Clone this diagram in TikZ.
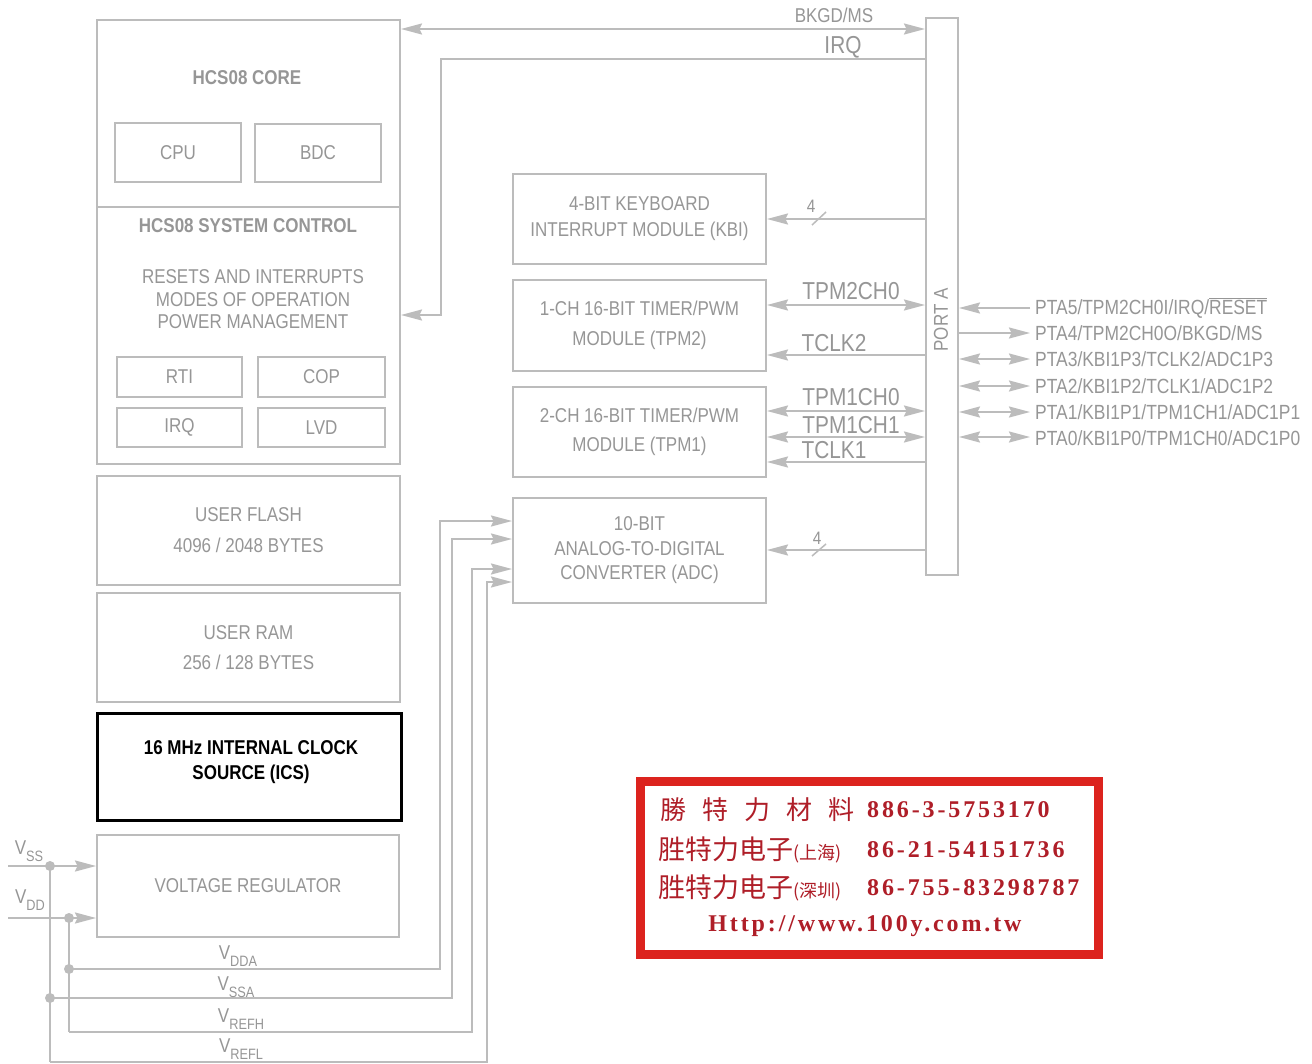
\documentclass[tikz,border=0pt]{standalone}
\usepackage{fontspec}
\setmainfont{Liberation Sans}[FakeStretch=0.85]
\newfontfamily\cjk{Noto Sans CJK TC}
\newfontfamily\rserif{Liberation Serif}[LetterSpace=12]
\usetikzlibrary{arrows.meta}
\definecolor{lgray}{RGB}{188,188,188}
\definecolor{tgray}{RGB}{150,150,150}
\definecolor{stampred}{RGB}{220,35,30}
\definecolor{stamptext}{RGB}{175,30,40}
\newcommand\fs[2]{\fontsize{#1}{#2}\selectfont}
\newcommand\vsub[1]{V\raisebox{-0.35em}{\fs{15}{15}#1}}
\begin{document}
\begin{tikzpicture}[x=1pt,y=-1pt,
  box/.style={draw=lgray, line width=2pt, text=tgray, inner sep=0pt, align=center, font=\fs{20}{26}},
  txt/.style={text=tgray, inner sep=0pt, align=center, font=\fs{20}{24}},
  lbl/.style={text=tgray, inner sep=0pt, font=\fs{24.5}{26}},
  pin/.style={text=tgray, inner sep=0pt, anchor=west, font=\fs{20.5}{22}},
  wire/.style={draw=lgray, line width=2pt},
  arr/.style={wire, -{Stealth[length=21pt,width=11pt,inset=2.5pt]}},
  dbl/.style={wire, {Stealth[length=21pt,width=11pt,inset=2.5pt]}-{Stealth[length=21pt,width=11pt,inset=2.5pt]}},
  dot/.style={circle, fill=lgray, inner sep=0pt, minimum size=10pt},
  stxt/.style={text=stamptext, inner sep=0pt, anchor=west}]
\fill[white] (0,0) rectangle (1312,1063);
\useasboundingbox (0,0) rectangle (1312,1063);

% left column
\node[box, minimum width=303pt, minimum height=187pt] (core) at (248.5,113.5) {};
\node[txt, font=\bfseries\fs{20}{24}] (coret) at (247,78) {HCS08 CORE};
\node[box, minimum width=126pt, minimum height=59pt] (cpu) at (178,152.5) {CPU};
\node[box, minimum width=126pt, minimum height=58pt] (bdc) at (318,153) {BDC};
\node[box, minimum width=303pt, minimum height=257pt] (sysc) at (248.5,335.5) {};
\node[txt, font=\bfseries\fs{20}{24}] (syst) at (248,226) {HCS08 SYSTEM CONTROL};
\node[txt, font=\fs{20}{22.5}] (sysl) at (253,299.5) {RESETS AND INTERRUPTS\\MODES OF OPERATION\\POWER MANAGEMENT};
\node[box, minimum width=125pt, minimum height=40pt] (rti) at (179.5,377) {RTI};
\node[box, minimum width=127pt, minimum height=40pt] (cop) at (321.5,377) {COP};
\node[box, minimum width=125pt, minimum height=39pt] (irqb) at (179.5,427.5) {IRQ};
\node[box, minimum width=127pt, minimum height=39pt] (lvd) at (321.5,427.5) {LVD};
\node[box, minimum width=303pt, minimum height=109pt, font=\fs{20}{31}] (flash) at (248.5,530.5) {USER FLASH\\4096 / 2048 BYTES};
\node[box, minimum width=303pt, minimum height=109pt, font=\fs{20}{30}] (ram) at (248.5,647.5) {USER RAM\\256 / 128 BYTES};
\node[box, draw=black, text=black, line width=3pt, minimum width=304pt, minimum height=107pt] (ics) at (249,766.5) {};
\node[txt, text=black, font=\bfseries\fs{20}{25}] (icst) at (251,762.5) {16 MHz INTERNAL CLOCK\\SOURCE (ICS)};
\node[box, minimum width=302pt, minimum height=102pt] (vreg) at (248,886) {VOLTAGE REGULATOR};

% middle modules
\node[box, minimum width=253pt, minimum height=90pt, font=\fs{20}{26}] (kbi) at (639.5,219) {4-BIT KEYBOARD\\INTERRUPT MODULE (KBI)};
\node[box, minimum width=253pt, minimum height=91pt, font=\fs{20}{30}] (tpm2) at (639.5,325.5) {1-CH 16-BIT TIMER/PWM\\MODULE (TPM2)};
\node[box, minimum width=253pt, minimum height=90pt, font=\fs{20}{29}] (tpm1) at (639.5,432) {2-CH 16-BIT TIMER/PWM\\MODULE (TPM1)};
\node[box, minimum width=253pt, minimum height=105pt, font=\fs{20}{24.5}] (adc) at (639.5,550.5) {10-BIT\\ANALOG-TO-DIGITAL\\CONVERTER (ADC)};

% port A
\node[box, minimum width=32pt, minimum height=557pt] (porta) at (942,296.5) {};
\node[txt, rotate=90] (portl) at (941,320) {PORT A};

% top connections
\coordinate (rbk) at (0,29);
\coordinate (rirq) at (441,59);
\coordinate (rirqe) at (0,315);
\draw[dbl] (core.east |- rbk) -- (porta.west |- rbk);
\draw[arr] (porta.west |- rirq) -- (rirq) |- (sysc.east |- rirqe);
\node[txt] (lbk) at (834,15) {BKGD/MS};
\node[lbl] (lirq) at (843,47) {IRQ};

% KBI
\draw[arr] (porta.west |- kbi.east) -- (kbi.east);
\coordinate (ks1) at (812,225);
\coordinate (ks2) at (826,212);
\draw[wire, line width=1.5pt] (ks1) -- (ks2);
\node[txt, font=\fs{18}{20}] (k4) at (811,206) {4};

% TPM2
\coordinate (r1) at (0,305);
\coordinate (r2) at (0,355);
\draw[dbl] (tpm2.east |- r1) -- (porta.west |- r1);
\draw[arr] (porta.west |- r2) -- (tpm2.east |- r2);
\node[lbl] (ltpm2) at (851,291) {TPM2CH0};
\node[lbl] (ltclk2) at (834,343) {TCLK2};

% TPM1
\coordinate (r3) at (0,411);
\coordinate (r4) at (0,437);
\coordinate (r5) at (0,462);
\draw[dbl] (tpm1.east |- r3) -- (porta.west |- r3);
\draw[dbl] (tpm1.east |- r4) -- (porta.west |- r4);
\draw[arr] (porta.west |- r5) -- (tpm1.east |- r5);
\node[lbl] (ltpm10) at (851,397) {TPM1CH0};
\node[lbl] (ltpm11) at (851,425) {TPM1CH1};
\node[lbl] (ltclk1) at (834,450) {TCLK1};

% ADC
\coordinate (r6) at (0,550);
\draw[arr] (porta.west |- r6) -- (adc.east |- r6);
\coordinate (as1) at (812,556);
\coordinate (as2) at (826,544);
\draw[wire, line width=1.5pt] (as1) -- (as2);
\node[txt, font=\fs{18}{20}] (a4) at (817,538) {4};

% pins
\coordinate (p5) at (1030,308);
\coordinate (p4) at (1030,333);
\coordinate (p3) at (1030,359);
\coordinate (p2) at (1030,386);
\coordinate (p1) at (1030,412);
\coordinate (p0) at (1030,437);
\draw[arr] (p5) -- (porta.east |- p5);
\draw[arr] (porta.east |- p4) -- (p4);
\draw[dbl] (porta.east |- p3) -- (p3);
\draw[dbl] (porta.east |- p2) -- (p2);
\draw[dbl] (porta.east |- p1) -- (p1);
\draw[dbl] (porta.east |- p0) -- (p0);
\node[pin] (l5) at (1035,308) {PTA5/TPM2CH0I/IRQ/$\overline{\hbox{RESET}}$};
\node[pin] (l4) at (1035,333) {PTA4/TPM2CH0O/BKGD/MS};
\node[pin] (l3) at (1035,359) {PTA3/KBI1P3/TCLK2/ADC1P3};
\node[pin] (l2) at (1035,386) {PTA2/KBI1P2/TCLK1/ADC1P2};
\node[pin] (l1) at (1035,412) {PTA1/KBI1P1/TPM1CH1/ADC1P1};
\node[pin] (l0) at (1035,438) {PTA0/KBI1P0/TPM1CH0/ADC1P0};

% power
\coordinate (vssin) at (8,866);
\coordinate (vddin) at (8,918);
\draw[arr] (vssin) -- (vreg.west |- vssin);
\draw[arr] (vddin) -- (vreg.west |- vddin);
\node[dot] (dss) at (50,866) {};
\node[dot] (ddd) at (69,918) {};
\node[dot] (jdda) at (69,969) {};
\node[dot] (jssa) at (50,998) {};
\coordinate (bfh) at (69,1032);
\coordinate (bfl) at (50,1062);
\draw[wire] (dss.center) -- (bfl);
\draw[wire] (ddd.center) -- (bfh);
\coordinate (c1) at (440,521);
\coordinate (c2) at (452,539);
\coordinate (c3) at (472,569);
\coordinate (c4) at (487,582);
\draw[arr] (jdda.center) -| (c1) -- (adc.west |- c1);
\draw[arr] (jssa.center) -| (c2) -- (adc.west |- c2);
\draw[arr] (bfh) -| (c3) -- (adc.west |- c3);
\draw[arr] (bfl) -| (c4) -- (adc.west |- c4);
\node[txt] (lss) at (29,851) {\vsub{SS}};
\node[txt] (ldd) at (30,900) {\vsub{DD}};
\node[txt] (ldda) at (238,956) {\vsub{DDA}};
\node[txt] (lssa) at (236,987) {\vsub{SSA}};
\node[txt] (lrh) at (241,1019) {\vsub{REFH}};
\node[txt] (lrl) at (241,1049) {\vsub{REFL}};

% stamp
\node[draw=stampred, line width=9pt, fill=white, minimum width=458pt, minimum height=172.5pt, inner sep=0pt] (stamp) at (869.5,867.75) {};
\node[stxt] (s1a) at (660,810) {\cjk\fs{26}{28}勝\hspace{16pt}特\hspace{16pt}力\hspace{16pt}材\hspace{16pt}料};
\node[stxt] (s1b) at (867,810) {\rserif\bfseries\fs{24}{26}886-3-5753170};
\node[stxt] (s2a) at (658,850) {\cjk\fs{27}{28}胜特力电子\fs{18}{20}(上海)};
\node[stxt] (s2b) at (867,850) {\rserif\bfseries\fs{24}{26}86-21-54151736};
\node[stxt] (s3a) at (658,888) {\cjk\fs{27}{28}胜特力电子\fs{18}{20}(深圳)};
\node[stxt] (s3b) at (867,888) {\rserif\bfseries\fs{24}{26}86-755-83298787};
\node[stxt, anchor=center] (s4) at (865,926) {\rserif\bfseries\fs{24}{26}Http://www.100y.com.tw};
\end{tikzpicture}
\end{document}
